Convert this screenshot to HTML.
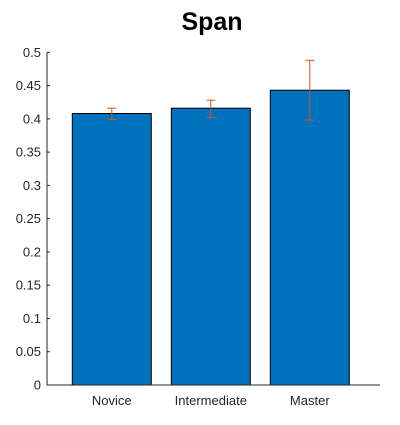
<!DOCTYPE html>
<html><head><meta charset="utf-8"><style>
body{margin:0;background:#fff;}
svg text{font-family:"Liberation Sans",Arial,sans-serif;}
</style></head><body>
<svg id="c" width="400" height="420" xmlns="http://www.w3.org/2000/svg">
<rect width="400" height="420" fill="#fff"/>
<text x="212" y="30" text-anchor="middle" font-size="25" font-weight="bold" fill="#000">Span</text>
<g id="plot"></g>
</svg>
<script>
const categories=["Novice","Intermediate","Master"];
const values=[0.408,0.416,0.443];
const errLow=[0.399,0.402,0.398];
const errHigh=[0.416,0.428,0.488];
const yTicks=[0,0.05,0.1,0.15,0.2,0.25,0.3,0.35,0.4,0.45,0.5];
const yTickLabels=["0","0.05","0.1","0.15","0.2","0.25","0.3","0.35","0.4","0.45","0.5"];

const NS="http://www.w3.org/2000/svg";
const g=document.getElementById('plot');
const X0=47,X1=380,Y0=385,Y1=52.3,YMAX=0.5;
const y=v=>Y0-(v/YMAX)*(Y0-Y1);
const xc=i=>X0+64.8+99*i;
const bw=79;
function mk(t,a){const e=document.createElementNS(NS,t);for(const k in a)e.setAttribute(k,a[k]);g.appendChild(e);return e;}
categories.forEach((c,i)=>{
  const cx=xc(i);
  const b=mk('rect',{x:cx-bw/2,y:y(values[i]),width:bw,height:Y0-y(values[i]),fill:'#0072BD',stroke:'#000','stroke-width':1});
  
  
  const eg=document.createElementNS(NS,'g');g.appendChild(eg);
  
  
  const st={stroke:'#D95319','stroke-width':1};
  [[cx,y(errLow[i]),cx,y(errHigh[i])],[cx-4.5,y(errLow[i]),cx+4.5,y(errLow[i])],[cx-4.5,y(errHigh[i]),cx+4.5,y(errHigh[i])]].forEach(l=>{
    const e=document.createElementNS(NS,'line');
    e.setAttribute('x1',l[0]);e.setAttribute('y1',l[1]);e.setAttribute('x2',l[2]);e.setAttribute('y2',l[3]);
    for(const k in st)e.setAttribute(k,st[k]);eg.appendChild(e);});
  const t=mk('text',{x:cx,y:405,'text-anchor':'middle','font-size':13,fill:'#262626'});
  t.textContent=c;
  
  
});
const ax=mk('path',{d:`M${X1},${Y0}H${X0}V${Y1}`,fill:'none',stroke:'#262626','stroke-width':1});


yTicks.forEach((v,i)=>{
  const yy=y(v);
  mk('line',{x1:X0,x2:X0+3,y1:yy,y2:yy,stroke:'#262626'});
  const t=mk('text',{x:X0-6,y:yy+4.5,'text-anchor':'end','font-size':13,fill:'#262626'});
  t.textContent=yTickLabels[i];
  
  
});
</script>
</body></html>
